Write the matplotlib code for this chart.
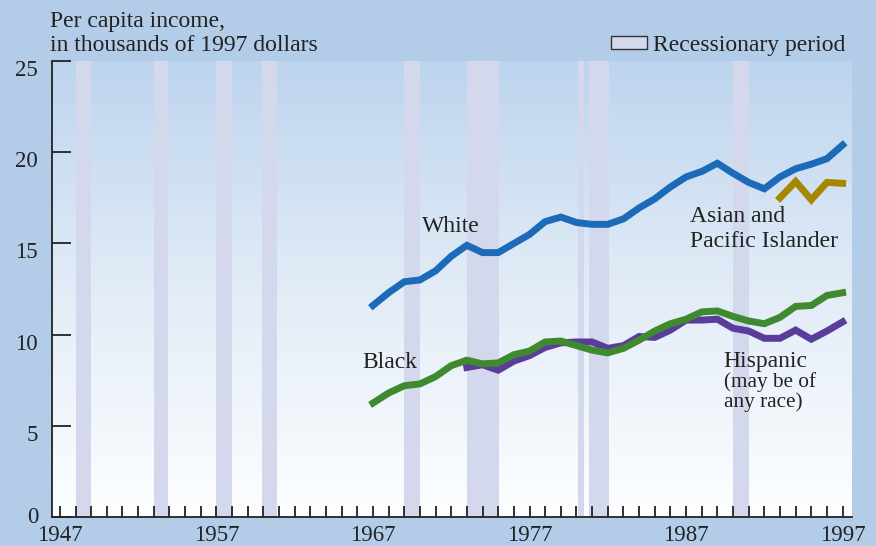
import matplotlib
matplotlib.use('Agg')
import matplotlib.pyplot as plt
import matplotlib.transforms as mtransforms
import numpy as np
from matplotlib.patches import Rectangle
from matplotlib.colors import LinearSegmentedColormap

plt.rcParams['font.family'] = ['Liberation Serif', 'DejaVu Serif']

# data
years = list(range(1967, 1998))
white = [11.6, 12.3, 12.9, 13.0, 13.5, 14.3, 14.9, 14.5, 14.5, 15.0,
         15.5, 16.2, 16.45, 16.15, 16.05, 16.05, 16.35, 16.95, 17.45, 18.1,
         18.65, 18.95, 19.4, 18.85, 18.35, 18.0, 18.65, 19.1, 19.35, 19.65,
         20.4]
black = [6.25, 6.8, 7.2, 7.3, 7.7, 8.3, 8.6, 8.4, 8.45, 8.9,
         9.1, 9.6, 9.65, 9.4, 9.15, 9.0, 9.25, 9.7, 10.2, 10.6,
         10.85, 11.25, 11.3, 11.0, 10.75, 10.6, 10.95, 11.55, 11.6, 12.15,
         12.3]
hisp_years = list(range(1973, 1998))
hispanic = [8.2, 8.35, 8.05, 8.55, 8.85, 9.3, 9.55, 9.6, 9.6, 9.25,
            9.4, 9.9, 9.85, 10.25, 10.8, 10.8, 10.85, 10.35, 10.2, 9.8,
            9.8, 10.25, 9.75, 10.2, 10.7]
asian_years = list(range(1993, 1998))
asian = [17.5, 18.4, 17.4, 18.35, 18.3]
recessions = [(1948.0, 1949.0), (1953.0, 1953.9), (1957.0, 1958.0),
              (1959.9, 1960.9), (1969.0, 1970.0), (1973.0, 1975.05),
              (1980.1, 1980.5), (1980.8, 1982.05), (1990.0, 1991.0)]
y_ticks = [0, 5, 10, 15, 20, 25]
x_labels = [1947, 1957, 1967, 1977, 1987, 1997]

outer = '#b3cde9'
rec_col = '#d4d8ed'
txt = '#222222'

fig = plt.figure(figsize=(8.76, 5.46), dpi=100)
fig.patch.set_facecolor(outer)
ax = fig.add_axes([0.0594, 0.0531, 0.9132, 0.8349])
ax.set_xlim(1946.5, 1997.6)
ax.set_ylim(0, 25)

# gradient background of the plot area
grad = np.linspace(0, 1, 256).reshape(-1, 1)
cmap = LinearSegmentedColormap.from_list('bg', ['#fdfeff', '#e2ecf7', '#bdd4ee'])
ax.imshow(grad, aspect='auto', cmap=cmap, origin='lower',
          extent=[1946.5, 1997.6, 0, 25], zorder=0)

for s, e in recessions:
    ax.axvspan(s, e, color=rec_col, zorder=1, lw=0)

ax.plot(hisp_years, hispanic, color='#5a3d9a', lw=5, zorder=3, solid_joinstyle='miter')
ax.plot(years, black, color='#3f8a2f', lw=5, zorder=4, solid_joinstyle='miter')
ax.plot(years, white, color='#1b6bb8', lw=5, zorder=5, solid_joinstyle='miter')
ax.plot(asian_years, asian, color='#a58800', lw=5, zorder=5, solid_joinstyle='miter')

ax.text(1970.1, 15.64, 'White', fontsize=17, va='baseline', color=txt)
ax.text(1987.25, 16.19, 'Asian and', fontsize=17, va='baseline', color=txt)
ax.text(1987.25, 14.82, 'Pacific Islander', fontsize=17, va='baseline', color=txt)
ax.text(1966.3, 8.19, 'Black', fontsize=17, va='baseline', color=txt)
ax.text(1989.4, 8.24, 'Hispanic', fontsize=17, va='baseline', color=txt)
ax.text(1989.4, 7.13, '(may be of', fontsize=15.3, va='baseline', color=txt)
ax.text(1989.4, 6.05, 'any race)', fontsize=15.3, va='baseline', color=txt)

for sp in ['top', 'right']:
    ax.spines[sp].set_visible(False)
for sp in ['left', 'bottom']:
    ax.spines[sp].set_color(txt)
    ax.spines[sp].set_linewidth(1.3)

ax.set_yticks(y_ticks)
ax.set_yticklabels([])
ax.set_xticks(x_labels)
ax.set_xticks(range(1947, 1998), minor=True)
ax.tick_params(axis='y', direction='in', length=14, width=1.3, color=txt)
ax.tick_params(axis='x', which='both', direction='in', length=8, width=1.3,
               color=txt, labelsize=16.5, pad=6, labelcolor=txt)

# y labels sit a little below their ticks in the original (0 sits a bit above)
ylab_tr = mtransforms.blended_transform_factory(ax.transAxes, ax.transData)
for v in y_ticks:
    dy = 0.0 if v == 0 else -0.095
    tr = ylab_tr + mtransforms.ScaledTranslation(-0.14, dy, fig.dpi_scale_trans)
    ax.text(0, v, str(v), transform=tr, ha='right', va='center',
            fontsize=16.5, color=txt, clip_on=False)

fig.text(0.057, 0.950, 'Per capita income,', fontsize=17, va='baseline', color=txt)
fig.text(0.057, 0.9071, 'in thousands of 1997 dollars', fontsize=17, va='baseline', color=txt)

fig.patches.append(Rectangle((611 / 876, 1 - 49 / 546), 36 / 876, 13 / 546,
                             transform=fig.transFigure, facecolor=rec_col,
                             edgecolor='#333333', lw=1.0))
fig.text(653 / 876, 0.9071, 'Recessionary period', fontsize=17,
         va='baseline', color=txt)

fig.savefig('out.png', dpi=100, facecolor=outer)
